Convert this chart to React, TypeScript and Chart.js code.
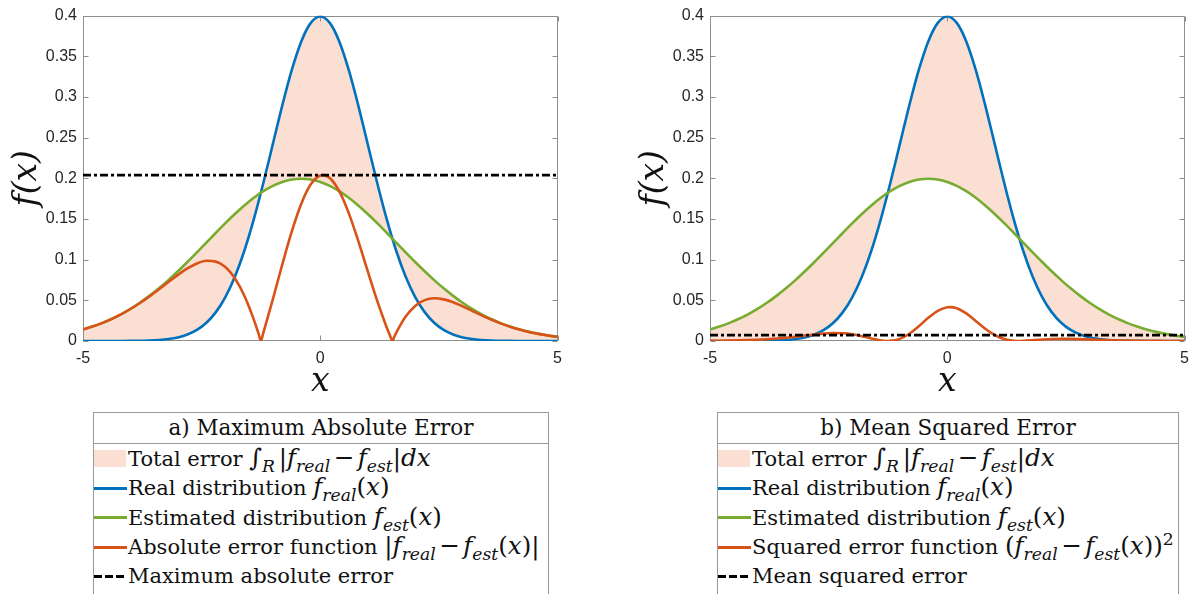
import React, { useEffect, useRef } from 'react';
import { Chart, registerables } from 'chart.js';

Chart.register(...registerables);

// ---------- data ----------
const xGrid = [
  -5, -4.8, -4.6, -4.4, -4.2, -4, -3.8, -3.6, -3.4, -3.2, -3, -2.8, -2.6, -2.4, -2.2, -2, -1.8, -1.6,
  -1.4, -1.2, -1, -0.8, -0.6, -0.4, -0.2, 0, 0.2, 0.4, 0.6, 0.8, 1, 1.2, 1.4, 1.6, 1.8, 2, 2.2, 2.4,
  2.6, 2.8, 3, 3.2, 3.4, 3.6, 3.8, 4, 4.2, 4.4, 4.6, 4.8, 5,
];

const realPdf = [
  0.0000015, 0.000004, 0.0000101, 0.000025, 0.0000589, 0.0001338, 0.0002919, 0.000612, 0.001232,
  0.002384, 0.004432, 0.007915, 0.013583, 0.022395, 0.035475, 0.053991, 0.07895, 0.110921, 0.149727,
  0.194186, 0.241971, 0.289692, 0.333225, 0.36827, 0.391043, 0.398942, 0.391043, 0.36827, 0.333225,
  0.289692, 0.241971, 0.194186, 0.149727, 0.110921, 0.07895, 0.053991, 0.035475, 0.022395, 0.013583,
  0.007915, 0.004432, 0.002384, 0.001232, 0.000612, 0.0002919, 0.0001338, 0.0000589, 0.000025,
  0.0000101, 0.000004, 0.0000015,
];

const estPdf = [
  0.014165, 0.017737, 0.021992, 0.026995, 0.032808, 0.039475, 0.047024, 0.05546, 0.064759, 0.074864,
  0.085684, 0.097093, 0.108926, 0.120985, 0.133043, 0.144846, 0.156127, 0.166612, 0.176033, 0.184135,
  0.190694, 0.195521, 0.198476, 0.199471, 0.198476, 0.195521, 0.190694, 0.184135, 0.176033, 0.166612,
  0.156127, 0.144846, 0.133043, 0.120985, 0.108926, 0.097093, 0.085684, 0.074864, 0.064759, 0.05546,
  0.047024, 0.039475, 0.032808, 0.026995, 0.021992, 0.017737, 0.014165, 0.011197, 0.008764, 0.006791,
  0.005211,
];

const errX = [
  -5, -4.8, -4.6, -4.4, -4.2, -4, -3.8, -3.6, -3.4, -3.2, -3, -2.8, -2.6, -2.4, -2.2, -2, -1.8, -1.6,
  -1.4, -1.292, -1.252, -1.2, -1, -0.8, -0.6, -0.4, -0.2, 0, 0.06, 0.2, 0.4, 0.6, 0.8, 1, 1.2, 1.4,
  1.479, 1.519, 1.559, 1.6, 1.8, 2, 2.2, 2.4, 2.6, 2.8, 3, 3.2, 3.4, 3.6, 3.8, 4, 4.2, 4.4, 4.6, 4.8, 5,
];

const absErr = [
  0.014164, 0.017733, 0.021982, 0.02697, 0.032749, 0.039341, 0.046732, 0.054848, 0.063527, 0.07248,
  0.081252, 0.089178, 0.095343, 0.09859, 0.097568, 0.090855, 0.077177, 0.055691, 0.026306, 0.00744, 0,
  0.010051, 0.051277, 0.094171, 0.134749, 0.168799, 0.192567, 0.203421, 0.20396, 0.200349, 0.184135,
  0.157192, 0.12308, 0.085844, 0.04934, 0.016684, 0.00533, 0, 0.00513, 0.010064, 0.029976, 0.043102,
  0.050209, 0.052469, 0.051176, 0.047545, 0.042592, 0.037091, 0.031576, 0.026383, 0.0217, 0.017603,
  0.014106, 0.011172, 0.008754, 0.006787, 0.00521,
];

const sqErr = [
  0.0002006, 0.0003145, 0.0004832, 0.0007274, 0.0010725, 0.0015477, 0.0021839, 0.0030083, 0.0040357,
  0.0052533, 0.0066019, 0.0079527, 0.0090903, 0.00972, 0.0095195, 0.0082546, 0.0059563, 0.0031015,
  0.000692, 0.0000554, 0, 0.000101, 0.0026293, 0.0088682, 0.0181573, 0.0284931, 0.037082, 0.0413801,
  0.0416, 0.0401397, 0.0339057, 0.0247093, 0.0151487, 0.0073692, 0.0024344, 0.0002784, 0.0000284, 0,
  0.0000263, 0.0001013, 0.0008986, 0.0018578, 0.0025209, 0.002753, 0.002619, 0.0022605, 0.0018141,
  0.0013757, 0.000997, 0.0006961, 0.0004709, 0.0003099, 0.000199, 0.0001248, 0.0000766, 0.0000461,
  0.0000271,
];

const maxAbsError = 0.2039;
const meanSqError = 0.0072;

const xTicks = [-5, 0, 5];
const yTicks = [0, 0.05, 0.1, 0.15, 0.2, 0.25, 0.3, 0.35, 0.4];

// ---------- styles ----------
const BLUE = '#0072BD';
const GREEN = '#77AC30';
const RED = '#D95319';
const FILL = 'rgb(252,223,211)';
const AXIS = '#8f8f8f';
const TICK_TEXT = '#262626';
const SERIF = '"DejaVu Serif", serif';

const boxPlugin = {
  id: 'matlabBox',
  beforeDatasetsDraw(chart: any) {
    const { ctx, chartArea, scales } = chart;
    const l = Math.round(chartArea.left) + 0.5;
    const r = Math.round(chartArea.right) - 0.5;
    const t = Math.round(chartArea.top) + 0.5;
    const b = Math.round(chartArea.bottom) - 0.5;
    ctx.save();
    ctx.strokeStyle = AXIS;
    ctx.lineWidth = 1;
    ctx.beginPath();
    ctx.rect(l, t, r - l, b - t);
    const tl = 5;
    scales.y.ticks.forEach((tk: any) => {
      const py = Math.round(scales.y.getPixelForValue(tk.value)) + 0.5;
      ctx.moveTo(l, py);
      ctx.lineTo(l + tl, py);
      ctx.moveTo(r, py);
      ctx.lineTo(r - tl, py);
    });
    scales.x.ticks.forEach((tk: any) => {
      const px = Math.round(scales.x.getPixelForValue(tk.value)) + 0.5;
      ctx.moveTo(px, b);
      ctx.lineTo(px, b - tl);
      ctx.moveTo(px, t);
      ctx.lineTo(px, t + tl);
    });
    ctx.stroke();
    ctx.restore();
  },
};

function makeConfig(errValues: number[], level: number): any {
  const pts = (xs: number[], ys: number[]) => xs.map((x, i) => ({ x, y: ys[i] }));
  return {
    type: 'line',
    data: {
      datasets: [
        {
          data: pts(xGrid, realPdf),
          borderColor: BLUE,
          borderWidth: 2.6,
          fill: { target: 1, above: FILL, below: FILL },
          order: 3,
        },
        {
          data: pts(xGrid, estPdf),
          borderColor: GREEN,
          borderWidth: 2.6,
          fill: false,
          order: 2,
        },
        {
          data: pts(errX, errValues),
          borderColor: RED,
          borderWidth: 2.6,
          fill: false,
          order: 1,
        },
        {
          data: [
            { x: xTicks[0], y: level },
            { x: xTicks[xTicks.length - 1], y: level },
          ],
          borderColor: '#000',
          borderWidth: 2.8,
          borderDash: [8, 3, 3, 3],
          fill: false,
          order: 0,
        },
      ],
    },
    options: {
      animation: false,
      responsive: false,
      devicePixelRatio: 1,
      layout: { padding: { top: 15, right: 11, bottom: 0, left: 0 } },
      elements: {
        point: { radius: 0, hoverRadius: 0 },
        line: { cubicInterpolationMode: 'monotone', borderCapStyle: 'butt' },
      },
      plugins: {
        legend: { display: false },
        tooltip: { enabled: false },
        filler: { drawTime: 'beforeDatasetsDraw' },
      },
      events: [],
      scales: {
        x: {
          type: 'linear',
          min: xTicks[0],
          max: xTicks[xTicks.length - 1],
          afterBuildTicks: (s: any) => {
            s.ticks = xTicks.map((v) => ({ value: v }));
          },
          afterFit: (s: any) => {
            s.height = 59;
          },
          grid: { display: false, drawTicks: false },
          border: { display: false },
          ticks: {
            autoSkip: false,
            maxRotation: 0,
            padding: 8,
            color: TICK_TEXT,
            font: { family: '"Liberation Sans", Arial, sans-serif', size: 16 },
            callback: (v: any) => String(v),
          },
          title: {
            display: true,
            text: 'x',
            color: '#111',
            font: { family: SERIF, style: 'italic', size: 33, lineHeight: 1 },
            padding: { top: 0, bottom: 1 },
          },
        },
        y: {
          type: 'linear',
          min: yTicks[0],
          max: yTicks[yTicks.length - 1],
          afterBuildTicks: (s: any) => {
            s.ticks = yTicks.map((v) => ({ value: v }));
          },
          afterFit: (s: any) => {
            s.width = 83;
          },
          grid: { display: false, drawTicks: false },
          border: { display: false },
          ticks: {
            autoSkip: false,
            padding: 6,
            color: TICK_TEXT,
            font: { family: '"Liberation Sans", Arial, sans-serif', size: 16 },
            callback: (v: any) => String(Number(Number(v).toFixed(2))),
          },
          title: {
            display: true,
            text: 'f(x)',
            color: '#111',
            font: { family: SERIF, style: 'italic', size: 33, lineHeight: 1 },
            padding: { top: 11, bottom: 0 },
          },
        },
      },
    },
    plugins: [boxPlugin],
  };
}

// ---------- legend pieces ----------
const M = ({ children }: any) => <span style={{ fontSize: '1.17em' }}>{children}</span>;
const It = ({ children }: any) => <span style={{ fontStyle: 'italic' }}>{children}</span>;
const Sb = ({ children }: any) => (
  <span style={{ fontStyle: 'italic', fontSize: '0.7em', position: 'relative', top: '0.35em' }}>{children}</span>
);
const Sp = ({ children }: any) => (
  <span style={{ fontSize: '0.7em', position: 'relative', top: '-0.5em' }}>{children}</span>
);
const F = ({ s }: any) => (
  <>
    <It>f</It>
    <Sb>{s}</Sb>
  </>
);
const Minus = () => <span style={{ margin: '0 0.14em' }}>−</span>;

const totalErr = (
  <>
    Total error{' '}
    <M>
      ∫<Sb>R</Sb>
      <span style={{ marginLeft: '0.15em' }}>|</span>
      <F s="real" />
      <Minus />
      <F s="est" />|<It>dx</It>
    </M>
  </>
);
const realLbl = (
  <>
    Real distribution{' '}
    <M>
      <F s="real" />(<It>x</It>)
    </M>
  </>
);
const estLbl = (
  <>
    Estimated distribution{' '}
    <M>
      <F s="est" />(<It>x</It>)
    </M>
  </>
);
const absLbl = (
  <>
    Absolute error function{' '}
    <M>
      |<F s="real" />
      <Minus />
      <F s="est" />(<It>x</It>)|
    </M>
  </>
);
const sqLbl = (
  <>
    Squared error function{' '}
    <M>
      (<F s="real" />
      <Minus />
      <F s="est" />(<It>x</It>))<Sp>2</Sp>
    </M>
  </>
);

const legendTitles = ['a) Maximum Absolute Error', 'b) Mean Squared Error'];
const legendLast = ['Maximum absolute error', 'Mean squared error'];

function Swatch({ kind, color }: { kind: string; color?: string }) {
  let inner: any = null;
  if (kind === 'fill') inner = <div style={{ width: 32, height: 17, background: FILL }} />;
  else if (kind === 'line') inner = <div style={{ width: 33, height: 3, background: color }} />;
  else
    inner = (
      <div
        style={{
          width: 31,
          height: 3,
          background: 'repeating-linear-gradient(to right, #000 0 8px, transparent 8px 11px)',
        }}
      />
    );
  return (
    <div style={{ width: 34, flex: '0 0 34px', display: 'flex', alignItems: 'center' }}>{inner}</div>
  );
}

function Legend({ left, width, title, errLbl, last }: any) {
  const rows = [
    { kind: 'fill', label: totalErr },
    { kind: 'line', color: BLUE, label: realLbl },
    { kind: 'line', color: GREEN, label: estLbl },
    { kind: 'line', color: RED, label: errLbl },
    { kind: 'dash', label: last },
  ];
  return (
    <div
      style={{
        position: 'absolute',
        left,
        top: 412,
        width,
        height: 200,
        border: '1px solid #9a9a9a',
        boxSizing: 'border-box',
        background: '#fff',
        fontFamily: SERIF,
        fontSize: 21,
        color: '#111',
        whiteSpace: 'nowrap',
      }}
    >
      <div
        style={{
          height: 30,
          lineHeight: '30px',
          textAlign: 'center',
          borderBottom: '1px solid #9a9a9a',
          fontSize: 21.5,
        }}
      >
        {title}
      </div>
      {rows.map((r, i) => (
        <div key={i} style={{ height: 29.5, display: 'flex', alignItems: 'center', lineHeight: '29.5px' }}>
          <Swatch kind={r.kind} color={r.color} />
          <div>{r.label}</div>
        </div>
      ))}
    </div>
  );
}

export default function App() {
  const c1 = useRef<HTMLCanvasElement>(null);
  const c2 = useRef<HTMLCanvasElement>(null);
  useEffect(() => {
    const a = new Chart(c1.current as HTMLCanvasElement, makeConfig(absErr, maxAbsError));
    const b = new Chart(c2.current as HTMLCanvasElement, makeConfig(sqErr, meanSqError));
    return () => {
      a.destroy();
      b.destroy();
    };
  }, []);
  return (
    <div
      style={{
        position: 'fixed',
        left: 0,
        top: 0,
        width: 1197,
        height: 594,
        overflow: 'hidden',
        background: '#fff',
      }}
    >
      <canvas ref={c1} width={570} height={400} style={{ position: 'absolute', left: 0, top: 0 }} />
      <canvas ref={c2} width={570} height={400} style={{ position: 'absolute', left: 627, top: 0 }} />
      <Legend left={93} width={456} title={legendTitles[0]} errLbl={absLbl} last={legendLast[0]} />
      <Legend left={717} width={462} title={legendTitles[1]} errLbl={sqLbl} last={legendLast[1]} />
    </div>
  );
}
